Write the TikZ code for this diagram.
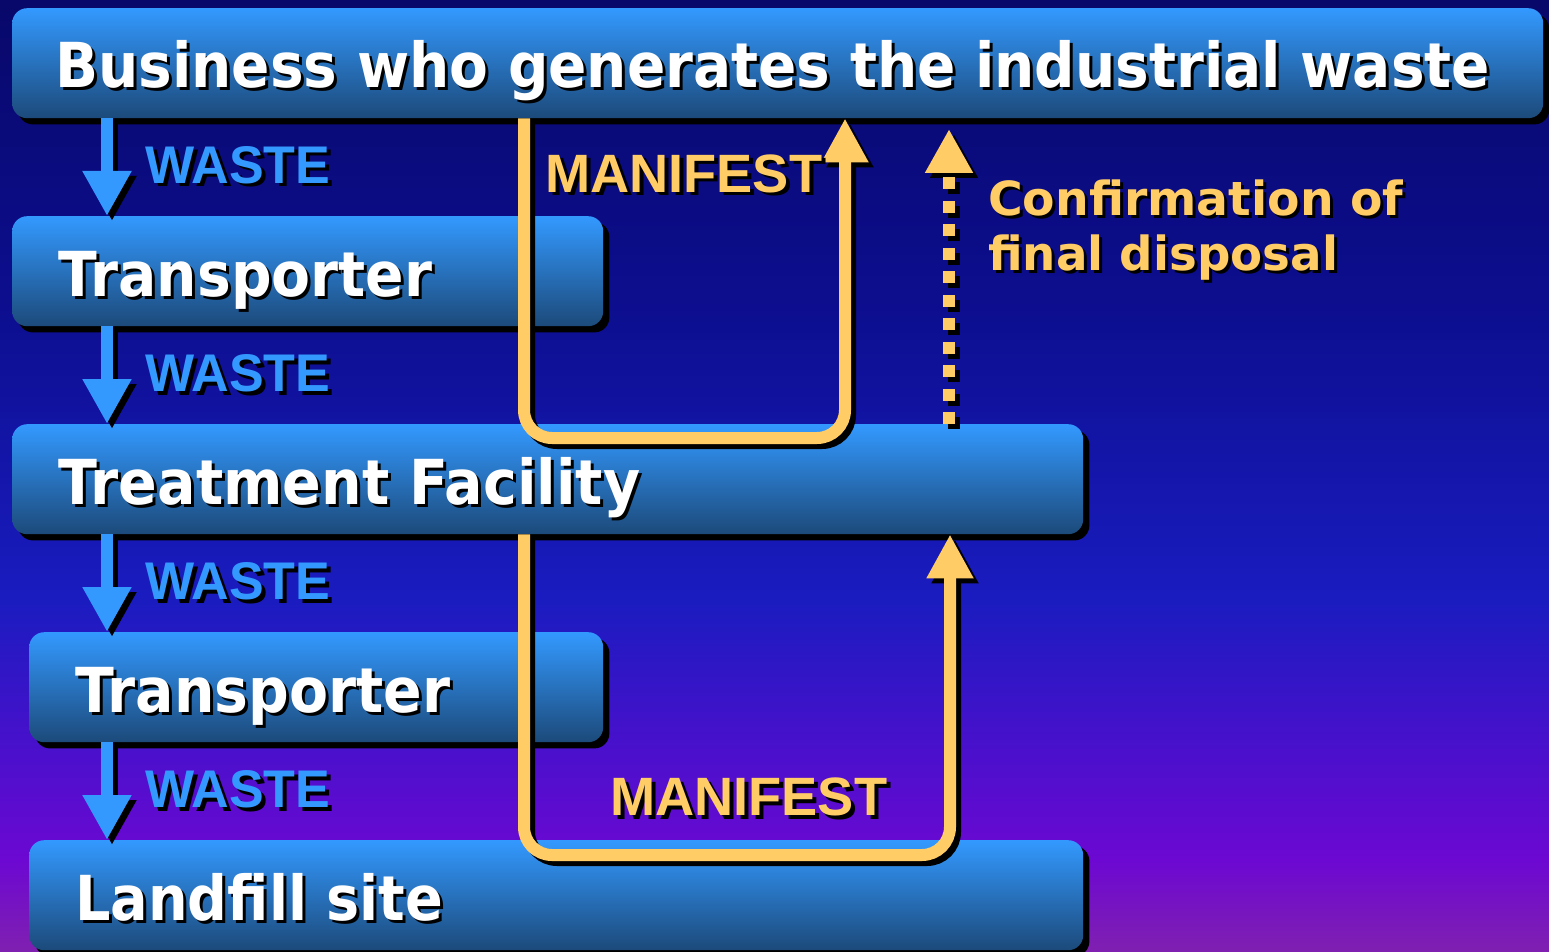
\documentclass[tikz,border=0pt]{standalone}
\usepackage{fontspec}
\usepackage{graphicx}
\usetikzlibrary{arrows.meta}
\newfontfamily\boxfont{DejaVu Sans}
\newfontfamily\labfont{Liberation Sans}
\definecolor{bgA}{HTML}{08086A}
\definecolor{bgB}{HTML}{0C0E8E}
\definecolor{bgC}{HTML}{1A1CC0}
\definecolor{bgD}{HTML}{4A10CC}
\definecolor{bgE}{HTML}{6C08D2}
\definecolor{bgF}{HTML}{8020B0}
\definecolor{boxtop}{HTML}{3399FF}
\definecolor{boxbot}{HTML}{1C4A7A}
\definecolor{wasteblue}{HTML}{3399FF}
\definecolor{manifc}{HTML}{FFCC66}
\newcommand\dropsh[2][3pt]{\leavevmode\rlap{\kern#1\raisebox{-#1}{\textcolor{black}{#2}}}#2}
\pgfdeclarelayer{backl}
\pgfdeclarelayer{shadl}
\pgfsetlayers{backl,shadl,main}
\begin{document}
\begin{tikzpicture}[x=1pt,y=-1pt,
  boxst/.style={rounded corners=15pt, top color=boxtop, bottom color=boxbot,
    minimum height=110pt, inner sep=0pt, anchor=north west},
  wtext/.style={anchor=base west, inner sep=0pt, text=white,
    font=\boxfont\bfseries\fontsize{62}{70}\selectfont},
  wastet/.style={anchor=base west, inner sep=0pt, text=wasteblue,
    font=\labfont\bfseries\fontsize{53}{60}\selectfont},
  maniftext/.style={anchor=base west, inner sep=0pt, text=manifc,
    font=\labfont\bfseries\fontsize{54}{60}\selectfont},
  conftext/.style={anchor=base west, inner sep=0pt, text=manifc,
    font=\boxfont\bfseries\fontsize{47}{55}\selectfont},
  warrow/.style={line width=12pt, draw=wasteblue, -{Triangle[width=46pt,length=45pt]}},
  marrow/.style={line width=12pt, draw=manifc, rounded corners=28pt,
    -{Triangle[width=44pt,length=44pt]}},
  darrow/.style={line width=12pt, draw=manifc, dash pattern=on 12pt off 11.5pt,
    -{Triangle[width=45pt,length=44pt]}},
  shad/.style={draw=black, transform canvas={xshift=5pt,yshift=-5pt}},
]
\useasboundingbox (0,0) rectangle (1549,952);
\begin{pgfonlayer}{backl}
  \shade[top color=bgA,bottom color=bgB] (0,0) rectangle (1549,300.5);
  \shade[top color=bgB,bottom color=bgC] (0,300) rectangle (1549,600.5);
  \shade[top color=bgC,bottom color=bgD] (0,600) rectangle (1549,750.5);
  \shade[top color=bgD,bottom color=bgE] (0,750) rectangle (1549,860.5);
  \shade[top color=bgE,bottom color=bgF] (0,860) rectangle (1549,952);
\end{pgfonlayer}

% boxes
\node[boxst, minimum width=1531pt] (b1) at (12,8) {};
\node[boxst, minimum width=591pt] (b2) at (12,216) {};
\node[boxst, minimum width=1071pt] (b3) at (12,424) {};
\node[boxst, minimum width=574pt] (b4) at (29,632) {};
\node[boxst, minimum width=1054pt] (b5) at (29,840) {};
\begin{pgfonlayer}{shadl}
  \foreach \n in {b1,b2,b3,b4,b5}
    \fill[black, rounded corners=15pt] ([shift={(6pt,-6pt)}]\n.south west) rectangle ([shift={(6pt,-6pt)}]\n.north east);
\end{pgfonlayer}

% waste arrows
\coordinate (wx) at (107,0);
\foreach \a/\b in {b1/b2,b2/b3,b3/b4,b4/b5}{
  \draw[warrow, shad] (wx |- \a.south) -- (wx |- \b.north);
  \draw[warrow] (wx |- \a.south) -- (wx |- \b.north);
}

% manifest loops
\coordinate (mL) at (524,0);
\coordinate (mR) at (845,0);
\coordinate (mR2) at (950,0);
\coordinate (mB1) at (0,438);
\coordinate (mB2) at (0,855);
\coordinate (dX) at (949,0);
\coordinate (dtip) at (949,129);
\draw[marrow, shad] (mL |- b1.south) -- (mL |- mB1) -- (mR |- mB1) -- (mR |- b1.south);
\draw[marrow] (mL |- b1.south) -- (mL |- mB1) -- (mR |- mB1) -- (mR |- b1.south);
\draw[marrow, shad] (mL |- b3.south) -- (mL |- mB2) -- (mR2 |- mB2) -- (mR2 |- b3.south);
\draw[marrow] (mL |- b3.south) -- (mL |- mB2) -- (mR2 |- mB2) -- (mR2 |- b3.south);
\draw[darrow, shad] (dX |- b3.north) -- (dtip);
\draw[darrow] (dX |- b3.north) -- (dtip);

% box texts
\node[wtext] (t1) at (55,88) {\dropsh{\resizebox{1435pt}{\height}{Business who generates the industrial waste}}};
\node[wtext] (t2) at (58,296) {\dropsh{\resizebox{374pt}{\height}{Transporter}}};
\node[wtext] (t3) at (58,504) {\dropsh{\resizebox{582pt}{\height}{Treatment Facility}}};
\node[wtext] (t4) at (75,712) {\dropsh{\resizebox{375pt}{\height}{Transporter}}};
\node[wtext] (t5) at (75,920) {\dropsh{\resizebox{368pt}{\height}{Landfill site}}};

% labels
\node[wastet] (w1) at (145,183) {\dropsh[4pt]{\resizebox{185pt}{\height}{WASTE}}};
\node[wastet] (w2) at (145,391) {\dropsh[4pt]{\resizebox{185pt}{\height}{WASTE}}};
\node[wastet] (w3) at (145,599) {\dropsh[4pt]{\resizebox{185pt}{\height}{WASTE}}};
\node[wastet] (w4) at (145,807) {\dropsh[4pt]{\resizebox{185pt}{\height}{WASTE}}};
\node[maniftext] (m1) at (545,192) {\dropsh[4pt]{\resizebox{277pt}{\height}{MANIFEST}}};
\node[maniftext] (m2) at (610,815) {\dropsh[4pt]{\resizebox{277pt}{\height}{MANIFEST}}};
\node[conftext] (c1) at (988,215) {\dropsh{\resizebox{415pt}{\height}{Confirmation of}}};
\node[conftext] (c2) at (988,270) {\dropsh{\resizebox{350pt}{\height}{final disposal}}};
\end{tikzpicture}
\end{document}
